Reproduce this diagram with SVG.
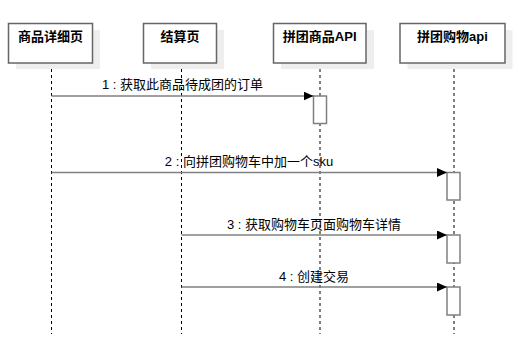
<svg xmlns="http://www.w3.org/2000/svg" width="532" height="337" viewBox="0 0 532 337">
  <style>
    .shadow { fill: #eeeeee; stroke: none; }
    .box { fill: #ffffff; stroke: #666666; stroke-width: 1.5; }
    .title { font-family: "Liberation Sans", "Noto Sans CJK SC", sans-serif; font-size: 13px; font-weight: bold; fill: #000; text-anchor: middle; }
    .life { stroke: #000; stroke-width: 1; stroke-dasharray: 3 3; fill: none; }
    .msg { stroke: #808080; stroke-width: 1.5; fill: none; marker-end: url(#arrow); }
    .label { font-family: "Liberation Sans", "Noto Sans CJK SC", sans-serif; font-size: 13px; fill: #000; text-anchor: middle; }
    .act { fill: #ffffff; stroke: #808080; stroke-width: 1.5; }
  </style>
  <defs>
    <marker id="arrow" markerUnits="userSpaceOnUse" markerWidth="11" markerHeight="9" refX="10" refY="4.5" orient="auto">
      <path d="M0,0 L10,4.5 L0,9 Z" fill="#000"/>
    </marker>
  </defs>
  <rect width="532" height="337" fill="#ffffff"/>

  <g id="lifelines">
    <line class="life" x1="51.5" y1="63" x2="51.5" y2="334"/>
    <line class="life" x1="181.5" y1="63" x2="181.5" y2="334"/>
    <line class="life" x1="320" y1="63" x2="320" y2="334"/>
    <line class="life" x1="454" y1="63" x2="454" y2="334"/>
  </g>

  <g id="node-detail">
    <rect class="shadow" x="16" y="30" width="84" height="39"/>
    <rect class="box" x="8.5" y="23.5" width="84" height="39.5"/>
    <text class="title" x="50.5" y="40.5">商品详细页</text>
  </g>
  <g id="node-checkout">
    <rect class="shadow" x="151" y="30" width="73" height="39"/>
    <rect class="box" x="143.5" y="23.5" width="73" height="39.5"/>
    <text class="title" x="180" y="40.5">结算页</text>
  </g>
  <g id="node-goods-api">
    <rect class="shadow" x="281" y="30" width="93" height="39"/>
    <rect class="box" x="273.5" y="23.5" width="92.5" height="39.5"/>
    <text class="title" x="319.7" y="40.5">拼团商品API</text>
  </g>
  <g id="node-cart-api">
    <rect class="shadow" x="407.5" y="30" width="105" height="39"/>
    <rect class="box" x="400" y="23.5" width="105" height="39.5"/>
    <text class="title" x="452.5" y="40.5">拼团购物api</text>
  </g>

  <g id="activations">
    <rect class="act" x="313.5" y="96" width="13" height="27.5"/>
    <rect class="act" x="447" y="172.5" width="13" height="27.5"/>
    <rect class="act" x="447" y="235" width="13" height="28"/>
    <rect class="act" x="447" y="287" width="13" height="28"/>
  </g>

  <g id="connectors">
    <line class="msg" x1="51.5" y1="96" x2="313.5" y2="96"/>
    <text class="label" x="182.5" y="89">1 : 获取此商品待成团的订单</text>
    <line class="msg" x1="51.5" y1="172.5" x2="447" y2="172.5"/>
    <text class="label" x="249" y="166">2 : 向拼团购物车中加一个sku</text>
    <line class="msg" x1="181.5" y1="235" x2="447" y2="235"/>
    <text class="label" x="314" y="229">3 : 获取购物车页面购物车详情</text>
    <line class="msg" x1="181.5" y1="287" x2="447" y2="287"/>
    <text class="label" x="314" y="281">4 : 创建交易</text>
  </g>
</svg>
